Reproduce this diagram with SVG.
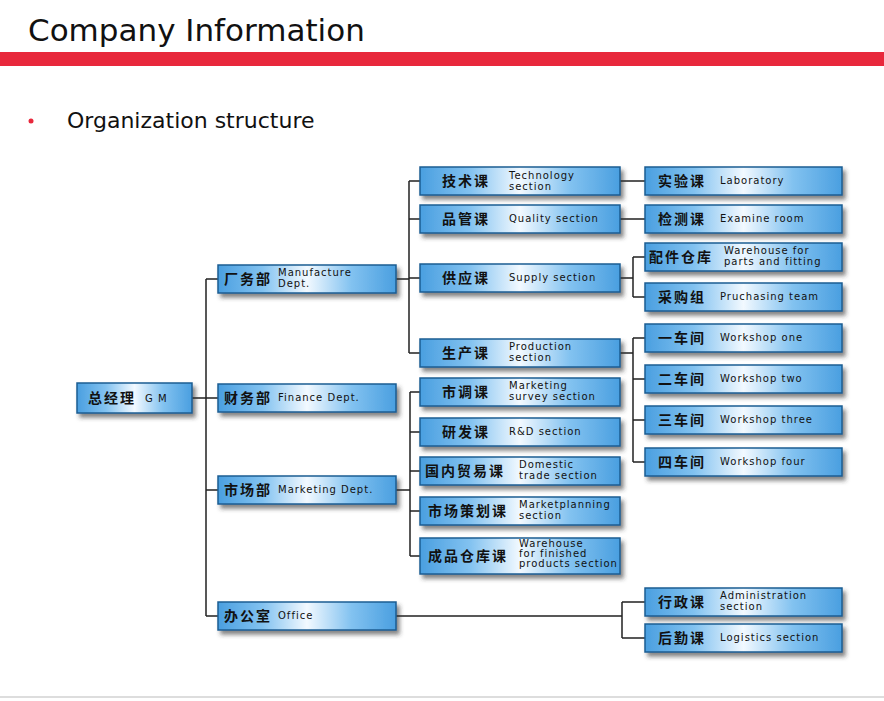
<svg xmlns="http://www.w3.org/2000/svg" width="884" height="701" viewBox="0 0 884 701">
<defs>
<linearGradient id="g" x1="0" y1="0" x2="1" y2="0">
<stop offset="0" stop-color="#4a9fe0"/><stop offset="0.25" stop-color="#82c2f0"/><stop offset="0.5" stop-color="#f2f9ff"/><stop offset="0.75" stop-color="#82c2f0"/><stop offset="1" stop-color="#4a9fe0"/>
</linearGradient>
<filter id="sh" x="-10%" y="-30%" width="130%" height="180%"><feDropShadow dx="3" dy="4" stdDeviation="2" flood-color="#333" flood-opacity="0.6"/></filter>
</defs>
<style>
.b{fill:url(#g);stroke:#1d5d92;stroke-width:1.5;filter:url(#sh)}
.c{font-family:"Noto Sans CJK SC",sans-serif;font-weight:bold;font-size:14px;fill:#111;letter-spacing:2px}
.e{font-family:"DejaVu Sans",sans-serif;font-size:10px;fill:#111;letter-spacing:1px}
.l{fill:none;stroke:#222;stroke-width:1.5}
</style>
<rect width="884" height="701" fill="#fff"/>
<text x="28" y="41" font-family="DejaVu Sans,sans-serif" font-size="31" fill="#111">Company Information</text>
<rect x="0" y="52" width="884" height="14" fill="#e8283c"/>
<circle cx="31" cy="121" r="2.5" fill="#e8283c"/>
<text x="67" y="128" font-family="DejaVu Sans,sans-serif" font-size="22" fill="#111">Organization structure</text>
<line x1="0" y1="697" x2="884" y2="697" stroke="#bbb" stroke-width="1"/>
<g id="connectors" class="l">
<path d="M192 398H218M206 279V616M206 279H218M206 490H218M206 616H218"/>
<path d="M396 279H409M409 181V353M409 181H420M409 219H420M409 278H420M409 353H420"/>
<path d="M396 490H410M410 392V556M410 392H420M410 432H420M410 471H420M410 511H420M410 556H420"/>
<path d="M620 181H645M620 219H645"/>
<path d="M620 278H633M633 257V297M633 257H645M633 297H645"/>
<path d="M620 353H633M633 338V462M633 338H645M633 379H645M633 420H645M633 462H645"/>
<path d="M396 616H622M622 602V638M622 602H645M622 638H645"/>
</g>
<g id="gm"><rect class="b" x="77" y="383" width="115" height="30"/><text class="c" x="88" y="403">总经理</text><text class="e" x="145" y="402">G M</text></g>
<g id="manufacture"><rect class="b" x="218" y="265" width="178" height="28"/><text class="c" x="224" y="284">厂务部</text><text class="e" x="278" y="276">Manufacture</text><text class="e" x="278" y="287">Dept.</text></g>
<g id="finance"><rect class="b" x="218" y="384" width="178" height="28"/><text class="c" x="224" y="403">财务部</text><text class="e" x="278" y="401">Finance Dept.</text></g>
<g id="marketing"><rect class="b" x="218" y="476" width="178" height="28"/><text class="c" x="224" y="495">市场部</text><text class="e" x="278" y="493">Marketing Dept.</text></g>
<g id="office"><rect class="b" x="218" y="602" width="178" height="28"/><text class="c" x="224" y="621">办公室</text><text class="e" x="278" y="619">Office</text></g>
<g id="tech"><rect class="b" x="420" y="167" width="200" height="28"/><text class="c" x="442" y="186">技术课</text><text class="e" x="509" y="179">Technology</text><text class="e" x="509" y="190">section</text></g>
<g id="quality"><rect class="b" x="420" y="205" width="200" height="28"/><text class="c" x="442" y="224">品管课</text><text class="e" x="509" y="222">Quality section</text></g>
<g id="supply"><rect class="b" x="420" y="264" width="200" height="28"/><text class="c" x="442" y="283">供应课</text><text class="e" x="509" y="281">Supply section</text></g>
<g id="production"><rect class="b" x="420" y="339" width="200" height="28"/><text class="c" x="442" y="358">生产课</text><text class="e" x="509" y="350">Production</text><text class="e" x="509" y="361">section</text></g>
<g id="msurvey"><rect class="b" x="420" y="378" width="200" height="28"/><text class="c" x="442" y="397">市调课</text><text class="e" x="509" y="389">Marketing</text><text class="e" x="509" y="400">survey section</text></g>
<g id="rd"><rect class="b" x="420" y="418" width="200" height="28"/><text class="c" x="442" y="437">研发课</text><text class="e" x="509" y="435">R&amp;D section</text></g>
<g id="domestic"><rect class="b" x="420" y="457" width="200" height="28"/><text class="c" x="425" y="476" letter-spacing="0">国内贸易课</text><text class="e" x="519" y="468">Domestic</text><text class="e" x="519" y="479">trade section</text></g>
<g id="mplanning"><rect class="b" x="420" y="497" width="200" height="28"/><text class="c" x="428" y="516" letter-spacing="0">市场策划课</text><text class="e" x="519" y="508">Marketplanning</text><text class="e" x="519" y="519">section</text></g>
<g id="warehouse"><rect class="b" x="420" y="538" width="200" height="36"/><text class="c" x="428" y="561" letter-spacing="0">成品仓库课</text><text class="e" x="519" y="547" font-size="7" letter-spacing="0.5">Warehouse</text><text class="e" x="519" y="557" font-size="7" letter-spacing="0.5">for finished</text><text class="e" x="519" y="567" font-size="7" letter-spacing="0.5">products section</text></g>
<g id="lab"><rect class="b" x="645" y="167" width="197" height="28"/><text class="c" x="658" y="186">实验课</text><text class="e" x="720" y="184">Laboratory</text></g>
<g id="examine"><rect class="b" x="645" y="205" width="197" height="28"/><text class="c" x="658" y="224">检测课</text><text class="e" x="720" y="222">Examine room</text></g>
<g id="parts"><rect class="b" x="645" y="243" width="197" height="28"/><text class="c" x="649" y="262" letter-spacing="0">配件仓库</text><text class="e" x="724" y="254">Warehouse for</text><text class="e" x="724" y="265">parts and fitting</text></g>
<g id="purchasing"><rect class="b" x="645" y="283" width="197" height="28"/><text class="c" x="658" y="302">采购组</text><text class="e" x="720" y="300">Pruchasing team</text></g>
<g id="ws1"><rect class="b" x="645" y="324" width="197" height="28"/><text class="c" x="658" y="343">一车间</text><text class="e" x="720" y="341">Workshop one</text></g>
<g id="ws2"><rect class="b" x="645" y="365" width="197" height="28"/><text class="c" x="658" y="384">二车间</text><text class="e" x="720" y="382">Workshop two</text></g>
<g id="ws3"><rect class="b" x="645" y="406" width="197" height="28"/><text class="c" x="658" y="425">三车间</text><text class="e" x="720" y="423">Workshop three</text></g>
<g id="ws4"><rect class="b" x="645" y="448" width="197" height="28"/><text class="c" x="658" y="467">四车间</text><text class="e" x="720" y="465">Workshop four</text></g>
<g id="admin"><rect class="b" x="645" y="588" width="197" height="28"/><text class="c" x="658" y="607">行政课</text><text class="e" x="720" y="599">Administration</text><text class="e" x="720" y="610">section</text></g>
<g id="logistics"><rect class="b" x="645" y="624" width="197" height="28"/><text class="c" x="658" y="643">后勤课</text><text class="e" x="720" y="641">Logistics section</text></g>
</svg>
